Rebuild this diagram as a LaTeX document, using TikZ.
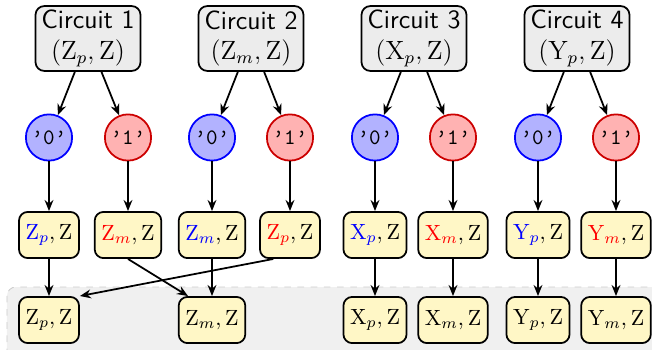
\documentclass[tikz,border=0pt]{standalone}
\usetikzlibrary{arrows.meta}
\definecolor{boxyellow}{HTML}{FFF7C6}
\definecolor{zonegray}{HTML}{F0F0F0}
\begin{document}
\begin{tikzpicture}[x=0.4545pt,y=-0.4545pt,
  circuitbox/.style={draw, thick, rounded corners=4pt, fill=gray!15, align=center,
    minimum width=47.7pt, minimum height=29.5pt, inner sep=1pt, font=\large},
  zero/.style={circle, draw=blue, thick, fill=blue!30, minimum size=21pt, inner sep=0pt, font=\ttfamily},
  one/.style={circle, draw=red!80!black, thick, fill=red!30, minimum size=21pt, inner sep=0pt, font=\ttfamily},
  resbox/.style={draw, thick, rounded corners=4pt, fill=boxyellow, minimum height=21pt, inner sep=3pt},
  arr/.style={-{Stealth[length=5pt,width=4pt]}, thick}]
\useasboundingbox (0,0) rectangle (652,349);
\begin{scope}
\clip (0,0) rectangle (652,349);
\draw[dashed, gray!40, fill=zonegray, rounded corners=4pt] (7,287) rectangle (680,380);
\end{scope}
% circuits
\node[circuitbox] (c1) at (88,38.5) {\textsf{Circuit 1}\\$(\mathrm{Z}_p,\mathrm{Z})$};
\node[circuitbox] (c2) at (251,38.5) {\textsf{Circuit 2}\\$(\mathrm{Z}_m,\mathrm{Z})$};
\node[circuitbox] (c3) at (414,38.5) {\textsf{Circuit 3}\\$(\mathrm{X}_p,\mathrm{Z})$};
\node[circuitbox] (c4) at (577,38.5) {\textsf{Circuit 4}\\$(\mathrm{Y}_p,\mathrm{Z})$};
% outcomes
\node[zero] (o1) at (49,137.5) {’0’};
\node[one]  (o2) at (128,137.5) {’1’};
\node[zero] (o3) at (212,137.5) {’0’};
\node[one]  (o4) at (290,137.5) {’1’};
\node[zero] (o5) at (375,137.5) {’0’};
\node[one]  (o6) at (453,137.5) {’1’};
\node[zero] (o7) at (538,137.5) {’0’};
\node[one]  (o8) at (616,137.5) {’1’};
% middle boxes
\node[resbox] (m1) at (49,235) {$\textcolor{blue}{\mathrm{Z}_p},\mathrm{Z}$};
\node[resbox] (m2) at (128,235) {$\textcolor{red}{\mathrm{Z}_m},\mathrm{Z}$};
\node[resbox] (m3) at (212,235) {$\textcolor{blue}{\mathrm{Z}_m},\mathrm{Z}$};
\node[resbox] (m4) at (290,235) {$\textcolor{red}{\mathrm{Z}_p},\mathrm{Z}$};
\node[resbox] (m5) at (375,235) {$\textcolor{blue}{\mathrm{X}_p},\mathrm{Z}$};
\node[resbox] (m6) at (453,235) {$\textcolor{red}{\mathrm{X}_m},\mathrm{Z}$};
\node[resbox] (m7) at (538,235) {$\textcolor{blue}{\mathrm{Y}_p},\mathrm{Z}$};
\node[resbox] (m8) at (616,235) {$\textcolor{red}{\mathrm{Y}_m},\mathrm{Z}$};
% bottom boxes
\node[resbox] (b1) at (49,320) {$\mathrm{Z}_p,\mathrm{Z}$};
\node[resbox] (b3) at (212,320) {$\mathrm{Z}_m,\mathrm{Z}$};
\node[resbox] (b5) at (375,320) {$\mathrm{X}_p,\mathrm{Z}$};
\node[resbox] (b6) at (453,320) {$\mathrm{X}_m,\mathrm{Z}$};
\node[resbox] (b7) at (538,320) {$\mathrm{Y}_p,\mathrm{Z}$};
\node[resbox] (b8) at (616,320) {$\mathrm{Y}_m,\mathrm{Z}$};
% arrows
\draw[arr] (c1) -- (o1);
\draw[arr] (c1) -- (o2);
\draw[arr] (c2) -- (o3);
\draw[arr] (c2) -- (o4);
\draw[arr] (c3) -- (o5);
\draw[arr] (c3) -- (o6);
\draw[arr] (c4) -- (o7);
\draw[arr] (c4) -- (o8);
\foreach \i in {1,...,8} { \draw[arr] (o\i) -- (m\i); }
\draw[arr] (m1) -- (b1);
\draw[arr] (m3) -- (b3);
\draw[arr] (m5) -- (b5);
\draw[arr] (m6) -- (b6);
\draw[arr] (m7) -- (b7);
\draw[arr] (m8) -- (b8);
\draw[arr] (m2.south) -- (b3.135);
\draw[arr] (m4.235) -- (b1.north east);
\end{tikzpicture}
\end{document}
